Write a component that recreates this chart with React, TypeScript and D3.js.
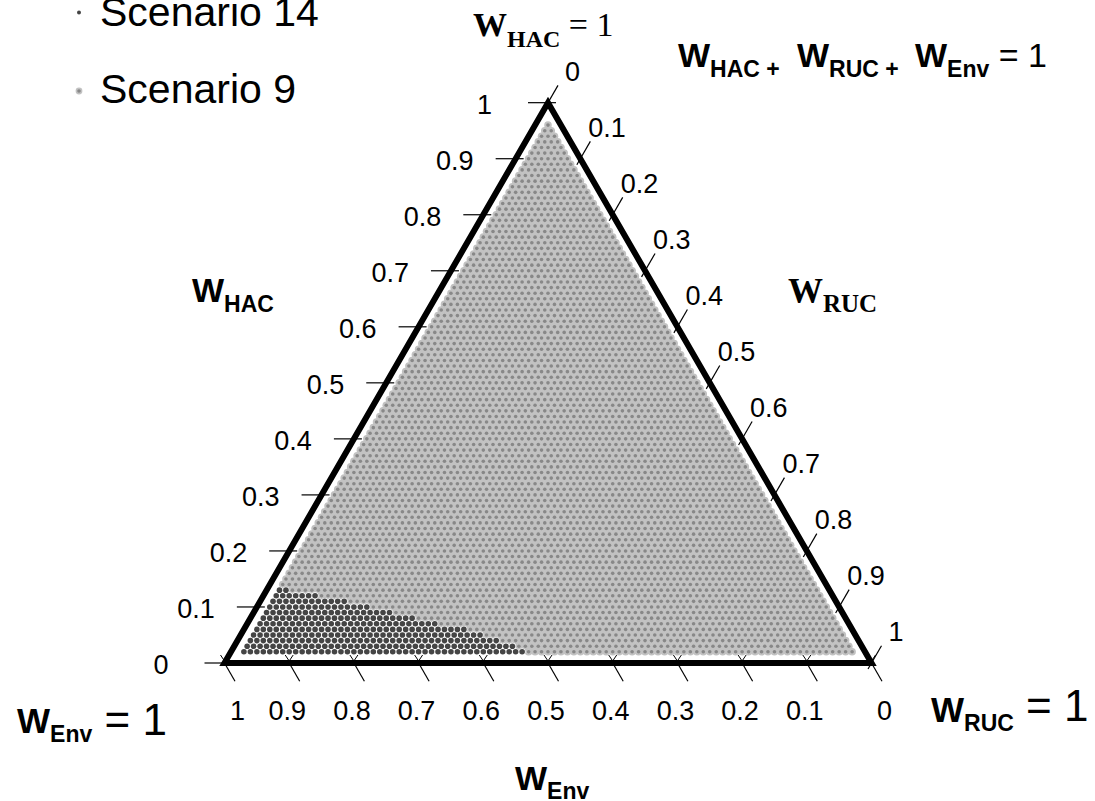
import React from "react";
import * as d3 from "d3";

// ternary plot: W_HAC + W_RUC + W_Env = 1
const legendNames = ["Scenario 14", "Scenario 9"];
const tickValues = [0, 0.1, 0.2, 0.3, 0.4, 0.5, 0.6, 0.7, 0.8, 0.9, 1];

// grid of weight combinations, step 0.01
const gridStep = 0.01;
// scenario 9 covers every combination where each weight >= this share
const scenario9MinShare = 0.02;
// scenario 14: rows of W_HAC and the largest W_RUC reached on each row (W_RUC starts at 0.02)
const scenario14Hac = [0.02, 0.03, 0.04, 0.05, 0.06, 0.07, 0.08, 0.09, 0.1, 0.11, 0.12, 0.13];
const scenario14MaxRuc = [0.45, 0.43, 0.4, 0.37, 0.34, 0.29, 0.25, 0.21, 0.17, 0.13, 0.08, 0.03];
const scenario14MinRuc = 0.02;

const sans = "'Liberation Sans', Arial, sans-serif";
const serif = "'Liberation Serif', 'Times New Roman', serif";

export default function App() {
  const width = 1095;
  const height = 801;

  const left = 224.5;
  const right = 871.5;
  const base = 663;
  const side = right - left;
  const top = base - side * Math.sqrt(3) / 2;

  // horizontal position uses ruc + hac/2, vertical uses hac
  const xScale = d3.scaleLinear().domain([0, 1]).range([left, right]);
  const yScale = d3.scaleLinear().domain([0, 1]).range([base, top]);
  const px = (hac: number, ruc: number) => xScale(ruc + hac / 2);
  const py = (hac: number) => yScale(hac);

  const n = Math.round(1 / gridStep);
  const minI = Math.round(scenario9MinShare / gridStep);

  const darkKeys = new Set<string>();
  const darkPts: { x: number; y: number; k: string }[] = [];
  scenario14Hac.forEach((h, r) => {
    const i = Math.round(h / gridStep);
    const j0 = Math.round(scenario14MinRuc / gridStep);
    const j1 = Math.round(scenario14MaxRuc[r] / gridStep);
    for (let j = j0; j <= j1; j++) {
      const k = `${i}-${j}`;
      darkKeys.add(k);
      darkPts.push({ x: px(i / n, j / n), y: py(i / n), k });
    }
  });

  const grayPts: { x: number; y: number; k: string }[] = [];
  for (let i = minI; i <= n - 2 * minI; i++) {
    for (let j = minI; j <= n - i - minI; j++) {
      const k = `${i}-${j}`;
      if (darkKeys.has(k)) continue;
      grayPts.push({ x: px(i / n, j / n), y: py(i / n), k });
    }
  }

  const tri = d3.line()([
    [px(0, 0), py(0)],
    [px(0, 1), py(0)],
    [px(1, 0), py(1)],
  ]) + "Z";

  const c60 = 0.5;
  const s60 = Math.sqrt(3) / 2;
  const isEnd = (t: number) => t === 0 || t === 1;

  return (
    <div style={{ position: "absolute", left: 0, top: 0 }}>
      <svg width={width} height={height} style={{ display: "block", background: "#fff" }}>
        {/* legend */}
        <circle cx={79} cy={12.5} r={2} fill="#444" />
        <circle cx={79} cy={91} r={3.4} fill="#c2c2c2" />
        <circle cx={79} cy={91} r={1.8} fill="#888" />
        {legendNames.map((name, i) => (
          <text key={name} x={100} y={i === 0 ? 26 : 103} fontFamily={sans} fontSize={41} fill="#000">
            {name}
          </text>
        ))}

        {/* scenario 9 */}
        <g>
          {grayPts.map((p) => (
            <circle key={"h" + p.k} cx={p.x} cy={p.y} r={3.8} fill="#c2c2c2" />
          ))}
          {grayPts.map((p) => (
            <circle key={"c" + p.k} cx={p.x} cy={p.y} r={1.8} fill="#888" />
          ))}
        </g>
        {/* scenario 14 */}
        <g>
          {darkPts.map((p) => (
            <circle key={"w" + p.k} cx={p.x} cy={p.y} r={3.4} fill="#fff" />
          ))}
          {darkPts.map((p) => (
            <circle key={"d" + p.k} cx={p.x} cy={p.y} r={2.8} fill="#454545" />
          ))}
        </g>

        {/* HAC ticks, left side */}
        {tickValues.map((t) => {
          const x = px(t, 0);
          const y = py(t);
          return (
            <g key={"l" + t}>
              <line x1={x - 20} y1={y} x2={x + 8} y2={y} stroke="#000" strokeWidth={1.2} />
              <text x={x - (isEnd(t) ? 56 : 42)} y={y + 11} textAnchor="end" fontFamily={sans} fontSize={27}>
                {t}
              </text>
            </g>
          );
        })}

        {/* RUC ticks, right side (0 at top) */}
        {tickValues.map((t) => {
          const x = px(1 - t, t);
          const y = py(1 - t);
          return (
            <g key={"r" + t}>
              <line
                x1={x - 7 * c60}
                y1={y + 7 * s60}
                x2={x + 20 * c60}
                y2={y - 20 * s60}
                stroke="#000"
                strokeWidth={1.2}
              />
              <text x={x + (isEnd(t) ? 17 : 8)} y={y - 22} fontFamily={sans} fontSize={27}>
                {t}
              </text>
            </g>
          );
        })}

        {/* Env ticks, bottom (1 at left) */}
        {tickValues.map((t) => {
          const x = px(0, 1 - t);
          const y = py(0);
          return (
            <g key={"b" + t}>
              <line x1={x} y1={y} x2={x + 21 * c60} y2={y + 21 * s60} stroke="#000" strokeWidth={1.2} />
              <polyline
                points={`${x - 4},${y - 8} ${x},${y - 2} ${x + 4},${y - 8}`}
                fill="none"
                stroke="#000"
                strokeWidth={1}
              />
              <text x={x + (isEnd(t) ? 13 : -2)} y={720} textAnchor="middle" fontFamily={sans} fontSize={27}>
                {t}
              </text>
            </g>
          );
        })}

        <path d={tri} fill="none" stroke="#000" strokeWidth={6} strokeLinejoin="miter" />

        {/* top vertex label */}
        <text x={473} y={36} fontFamily={serif} fill="#000">
          <tspan fontSize={34} fontWeight="bold">W</tspan>
          <tspan fontSize={24} fontWeight="bold" dy={11}>HAC</tspan>
          <tspan fontSize={34} dy={-11}> = 1</tspan>
        </text>

        {/* right side label */}
        <text x={788} y={303} fontFamily={serif} fill="#000">
          <tspan fontSize={35} fontWeight="bold">W</tspan>
          <tspan fontSize={25} fontWeight="bold" dy={9}>RUC</tspan>
        </text>

        {/* formula */}
        <text y={67} fontFamily={sans} fontWeight="bold" fill="#000">
          <tspan x={678} fontSize={34}>W</tspan>
          <tspan fontSize={23} dy={10}>HAC +</tspan>
          <tspan x={797} fontSize={34} dy={-10}>W</tspan>
          <tspan fontSize={23} dy={10}>RUC +</tspan>
          <tspan x={915} fontSize={34} dy={-10}>W</tspan>
          <tspan fontSize={23} dy={10}>Env</tspan>
          <tspan fontSize={34} fontWeight="normal" dy={-10}> = 1</tspan>
        </text>

        {/* left side label */}
        <text x={192} y={302} fontFamily={sans} fontWeight="bold" fill="#000">
          <tspan fontSize={34}>W</tspan>
          <tspan fontSize={23} dy={10}>HAC</tspan>
        </text>

        {/* bottom label */}
        <text x={515} y={790} fontFamily={sans} fontWeight="bold" fill="#000">
          <tspan fontSize={34}>W</tspan>
          <tspan fontSize={23} dy={9}>Env</tspan>
        </text>

        {/* bottom-left vertex */}
        <text x={17} y={733} fontFamily={sans} fill="#000">
          <tspan fontSize={35} fontWeight="bold">W</tspan>
          <tspan fontSize={23} fontWeight="bold" dy={9}>Env</tspan>
          <tspan fontSize={44} dy={-7}> = 1</tspan>
        </text>

        {/* bottom-right vertex */}
        <text x={931} y={722} fontFamily={sans} fill="#000">
          <tspan fontSize={35} fontWeight="bold">W</tspan>
          <tspan fontSize={23} fontWeight="bold" dy={9}>RUC</tspan>
          <tspan fontSize={44} dy={-10}> = 1</tspan>
        </text>
      </svg>
    </div>
  );
}
